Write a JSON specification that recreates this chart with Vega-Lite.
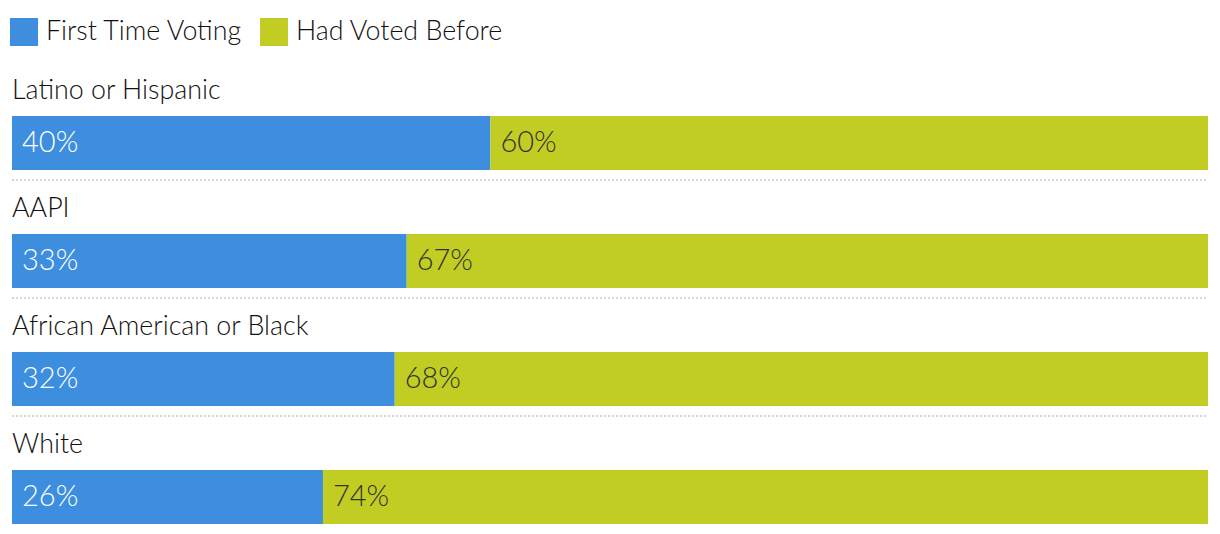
{
  "$schema": "https://vega.github.io/schema/vega-lite/v6.json",
  "autosize": "none",
  "width": 1196,
  "height": 472,
  "padding": {"left": 12, "right": 12, "top": 62, "bottom": 0},
  "background": "white",
  "config": {"view": {"stroke": null}, "font": "Lato"},
  "data": {"values": [
    {"group": "Latino or Hispanic", "type": "First Time Voting", "pct": 40, "label": "40%"},
    {"group": "Latino or Hispanic", "type": "Had Voted Before", "pct": 60, "label": "60%"},
    {"group": "AAPI", "type": "First Time Voting", "pct": 33, "label": "33%"},
    {"group": "AAPI", "type": "Had Voted Before", "pct": 67, "label": "67%"},
    {"group": "African American or Black", "type": "First Time Voting", "pct": 32, "label": "32%"},
    {"group": "African American or Black", "type": "Had Voted Before", "pct": 68, "label": "68%"},
    {"group": "White", "type": "First Time Voting", "pct": 26, "label": "26%"},
    {"group": "White", "type": "Had Voted Before", "pct": 74, "label": "74%"}
  ]},
  "transform": [
    {"stack": "pct", "groupby": ["group"], "sort": [{"field": "type", "order": "ascending"}], "as": ["x0", "x1"]}
  ],
  "encoding": {
    "y": {"field": "group", "type": "nominal", "axis": null,
      "scale": {"domain": ["Latino or Hispanic", "AAPI", "African American or Black", "White"], "paddingInner": 0, "paddingOuter": 0}}
  },
  "layer": [
    {
      "transform": [{"filter": "datum.type === 'First Time Voting' && datum.group !== 'White'"}],
      "mark": {"type": "rule", "yOffset": 59, "color": "#d6d6d6", "strokeWidth": 2, "strokeDash": [2, 2]},
      "encoding": {
        "x": {"datum": 0, "type": "quantitative", "scale": {"domain": [0, 100]}, "axis": null},
        "x2": {"datum": 100}
      }
    },
    {
      "mark": {"type": "bar", "height": 54, "yOffset": 22},
      "encoding": {
        "x": {"field": "x0", "type": "quantitative", "scale": {"domain": [0, 100]}, "axis": null},
        "x2": {"field": "x1"},
        "color": {"field": "type", "type": "nominal",
          "scale": {"domain": ["First Time Voting", "Had Voted Before"], "range": ["#3d8ede", "#c2cd23"]},
          "legend": {"title": null, "orient": "none", "legendX": -2, "legendY": -44, "direction": "horizontal",
            "symbolType": "square", "symbolSize": 784, "symbolStrokeWidth": 0, "symbolOpacity": 1,
            "labelFontSize": 26.8, "labelFontWeight": 300, "labelColor": "#111111", "labelFont": "Lato", "labelOffset": 8,
            "columnPadding": 17, "padding": 0, "labelLimit": 400}}
      }
    },
    {
      "mark": {"type": "text", "align": "left", "baseline": "middle", "dx": 10, "dy": 22, "fontSize": 29, "fontWeight": 300},
      "encoding": {
        "x": {"field": "x0", "type": "quantitative"},
        "text": {"field": "label"},
        "color": {"condition": {"test": "datum.type === 'First Time Voting'", "value": "white"}, "value": "#333333"}
      }
    },
    {
      "transform": [{"filter": "datum.type === 'First Time Voting'"}],
      "mark": {"type": "text", "align": "left", "baseline": "middle", "dy": -30, "fontSize": 26.8, "fontWeight": 300, "color": "#111111"},
      "encoding": {
        "x": {"datum": 0, "type": "quantitative"},
        "text": {"field": "group"}
      }
    }
  ]
}
